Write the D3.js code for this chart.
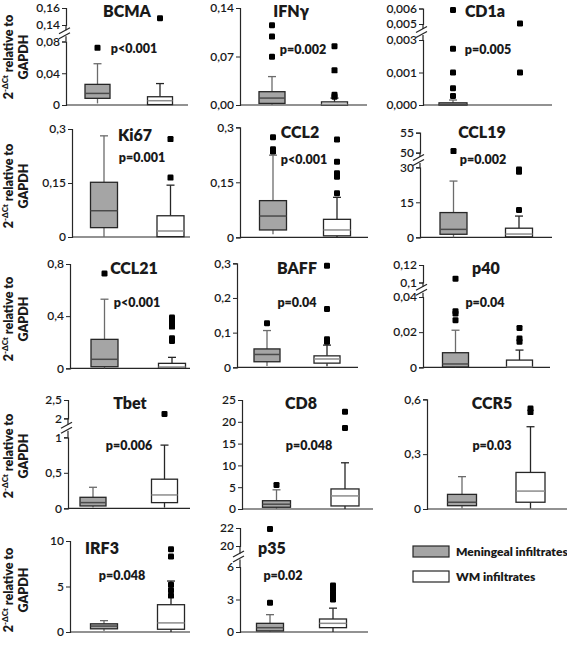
<!DOCTYPE html>
<html><head><meta charset="utf-8">
<script src="https://cdn.jsdelivr.net/npm/d3@7"></script>
<style>body{margin:0;background:#fff} svg{display:block} text{font-family:Lato,"Open Sans",sans-serif}</style>
</head><body><svg id="c" width="567" height="650"></svg>
<script>
// ---------------- DATA ----------------
const genes = ["BCMA","IFNγ","CD1a","Ki67","CCL2","CCL19","CCL21","BAFF","p40","Tbet","CD8","CCR5","IRF3","p35"];
const pValues = ["p<0.001","p=0.002","p=0.005","p=0.001","p<0.001","p=0.002","p<0.001","p=0.04","p=0.04","p=0.006","p=0.048","p=0.03","p=0.048","p=0.02"];
const groups = ["Meningeal infiltrates","WM infiltrates"];
// [whisker low, Q1, median, Q3, whisker high]
const meningealStats = [
  [0.002,0.0084,0.0146,0.026,0.052],
  [0,0.0023,0.010,0.0192,0.041],
  [0,0,0.00002,0.0001,0.00023],
  [0,0.026,0.073,0.152,0.281],
  [0.008,0.02,0.058,0.1,0.224],
  [0,1.3,3.4,10.6,24.1],
  [0,0.012,0.069,0.222,0.53],
  [0.004,0.016,0.037,0.053,0.106],
  [0,0.0002,0.0019,0.0083,0.0211],
  [0.01,0.033,0.08,0.155,0.296],
  [0,0.4,1.1,1.9,4.4],
  [0.003,0.018,0.037,0.08,0.177],
  [0.1,0.35,0.65,0.9,1.25],
  [0,0.1,0.4,0.8,1.6]
];
const wmStats = [
  [0,0.0005,0.0054,0.0104,0.027],
  [0,0,0.001,0.0045,0.010],
  [0,0,0,0,0],
  [0,0.001,0.0167,0.059,0.144],
  [0,0.004,0.02,0.049,0.109],
  [0,0.2,1.4,3.9,9.1],
  [0,0.003,0.01,0.038,0.084],
  [0.003,0.012,0.024,0.033,0.064],
  [0,0,0.0003,0.0041,0.0098],
  [0.01,0.08,0.188,0.41,0.89],
  [0,0.7,3.0,4.6,10.6],
  [0.003,0.037,0.098,0.2,0.45],
  [0,0.3,1.0,3.0,5.6],
  [0,0.4,0.8,1.2,2.2]
];
const meningealOutliers = [
  [0.072],[0.115,0.099,0.0696],[0.0059,0.0026,0.0015,0.00077,0.00042],[],
  [0.273,0.24,0.234],[50.4],[0.727],[0.127],[0.1044,0.0319,0.0306,0.0268],
  [],[5.5],[],[],[21.9,2.7]
];
const wmOutliers = [
  [0.148],[0.0847,0.050,0.0147,0.012],[0.00504,0.0015],[0.272,0.165],
  [0.267,0.206,0.175,0.165,0.12],[29.1,28.1,11.7],[0.39,0.37,0.34,0.32,0.23,0.21],
  [0.293,0.168,0.081,0.074],[0.0224,0.0164,0.0145],[2.12],[22.3,18.6],[0.55,0.53],
  [9.1,8.3,5.2,4.6,4.0],[4.3,4.0,3.6,3.3,3.0]
];
const lowTicks = [
  [0,0.04,0.08],[0,0.07,0.14],[0,0.0015,0.003],[0,0.15,0.3],[0,0.15,0.3],[0,15,30],
  [0,0.4,0.8],[0,0.1,0.2,0.3],[0,0.02,0.04],[0,0.5,1],[0,5,10,15,20,25],[0,0.3,0.6],
  [0,5,10],[0,3,6]
];
const lowTickLabels = [
  ["0","0,04","0,08"],["0,00","0,07","0,14"],["0,000","0,001","0,003"],["0","0,15","0,3"],["0","0,15","0,3"],["0","15","30"],
  ["0","0,4","0,8"],["0","0,1","0,2","0,3"],["0","0,02","0,04"],["0","0,5","1"],["0","5","10","15","20","25"],["0","0,3","0,6"],
  ["0","5","10"],["0","3","6"]
];
const upTicks = [[0.14,0.16],null,[0.005,0.006],null,null,[50,55],null,null,[0.1,0.12],[2,2.5],null,null,null,[20,22]];
const upTickLabels = [["0,14","0,16"],null,["0,005","0,006"],null,null,["50","55"],null,null,["0,1","0,12"],["2","2,5"],null,null,null,["20","22"]];
const yLabelMain = "2", yLabelSup = "-ΔCt", yLabelRest = " relative to", yLabelLine2 = "GAPDH";

// ---------------- LAYOUT ----------------
const layout = [
  {ax:66, xr:188, base:105, lowTop:41.5, upBot:25, upTop:8, c:[97.5,160], bw:25, tx:127, ty:17, px:134, py:53},
  {ax:240,xr:367, base:105, lowTop:8, c:[272,334.5], bw:26, tx:291, ty:17, px:303, py:54},
  {ax:423,xr:552, base:105, lowTop:40, upBot:24, upTop:8.5, c:[453,520], bw:28, tx:485, ty:17, px:488, py:54},
  {ax:72, xr:190, base:237, lowTop:129, c:[104,170.5], bw:27, tx:135, ty:141, px:142, py:162},
  {ax:240,xr:368, base:237.3, lowTop:127.3, c:[273,337], bw:27, tx:300, ty:138, px:304, py:164},
  {ax:420,xr:552, base:237.3, lowTop:167.3, upBot:152.7, upTop:132.7, c:[453.5,519], bw:27, tx:482, ty:138, px:483, py:164},
  {ax:70, xr:190, base:368.3, lowTop:264, c:[104.5,172], bw:27, tx:134, ty:274, px:137, py:307},
  {ax:237,xr:358, base:367.3, lowTop:263.3, c:[267,327], bw:26, tx:297, ty:274, px:297, py:307},
  {ax:423,xr:550, base:367.3, lowTop:297, upBot:282.5, upTop:265, c:[455.5,519.5], bw:26, tx:486, ty:274, px:485, py:307},
  {ax:68, xr:190, base:508.3, lowTop:437.3, upBot:418.3, upTop:400, c:[93,164.5], bw:26, tx:130, ty:409, px:129, py:450},
  {ax:242,xr:373, base:509, lowTop:400, c:[276.5,345], bw:28, tx:301, ty:409, px:309, py:450},
  {ax:427,xr:567, base:509, lowTop:399.3, c:[462,530.5], bw:29, tx:492, ty:409, px:492, py:450},
  {ax:70, xr:190, base:632, lowTop:541, c:[104,171], bw:27, tx:102, ty:554, px:122, py:580},
  {ax:240,xr:368, base:632, lowTop:567, upBot:546, upTop:528, c:[270,333], bw:27, tx:272, ty:554, px:283, py:580}
];
const yLabelRows = [57,186,319,456,590];
const colors = {fill:["#a5a5a5","#ffffff"], stroke:"#262626", whisker:["#6b6b6b","#262626"], median:["#4a4a4a","#8c8c8c"], axis:"#262626", text:"#1a1a1a"};

// ---------------- DRAW ----------------
const svg = d3.select("#c");
genes.forEach((g,i)=>{
  const L = layout[i];
  const gp = svg.append("g");
  const lowDomain = [lowTicks[i][0], lowTicks[i][lowTicks[i].length-1]];
  const yLow = d3.scaleLinear().domain(lowDomain).range([L.base, L.lowTop]);
  let yUp = null;
  if (upTicks[i]) yUp = d3.scaleLinear().domain([upTicks[i][0], upTicks[i][upTicks[i].length-1]]).range([L.upBot, L.upTop]);
  const y = v => (yUp && v > lowDomain[1]) ? yUp(v) : yLow(v);
  const x = d3.scalePoint().domain(groups).range(L.c);

  gp.append("g").attr("transform",`translate(${L.ax},0)`)
    .call(d3.axisLeft(yLow).tickValues(lowTicks[i]).tickFormat((d,k)=>lowTickLabels[i][k]).tickSizeOuter(0).tickSize(4));
  if (yUp) {
    gp.append("g").attr("transform",`translate(${L.ax},0)`)
      .call(d3.axisLeft(yUp).tickValues(upTicks[i]).tickFormat((d,k)=>upTickLabels[i][k]).tickSizeOuter(0).tickSize(4));
    const mid = (L.upBot + L.lowTop)/2;
    gp.append("line").attr("x1",L.ax).attr("x2",L.ax).attr("y1",L.upBot).attr("y2",mid-3).attr("stroke",colors.axis).attr("stroke-width",1.2);
    gp.append("line").attr("x1",L.ax).attr("x2",L.ax).attr("y1",mid+3).attr("y2",L.lowTop).attr("stroke",colors.axis).attr("stroke-width",1.2);
    [-2.5,2.5].forEach(o=>{
      gp.append("line").attr("x1",L.ax-7).attr("y1",mid+o+3).attr("x2",L.ax+4).attr("y2",mid+o-3)
        .attr("stroke",colors.axis).attr("stroke-width",1.3);
    });
  }
  gp.selectAll(".domain").attr("stroke",colors.axis).attr("stroke-width",1.2);
  gp.selectAll(".tick line").attr("stroke",colors.axis);
  gp.selectAll(".tick text").attr("fill",colors.text).style("font-size","12px").style("font-weight","600").attr("x",-6);

  gp.append("line").attr("x1",L.ax).attr("x2",L.xr).attr("y1",L.base).attr("y2",L.base).attr("stroke",colors.axis).attr("stroke-width",1.2);

  const stats = [meningealStats[i], wmStats[i]];
  const outs = [meningealOutliers[i], wmOutliers[i]];
  groups.forEach((grp,k)=>{
    const s = stats[k], cx = x(grp), hw = L.bw/2;
    if (s[4] > 0) {
      gp.append("line").attr("x1",cx).attr("x2",cx).attr("y1",y(s[3])).attr("y2",y(s[4])).attr("stroke",colors.whisker[k]).attr("stroke-width",1.3);
      gp.append("line").attr("x1",cx).attr("x2",cx).attr("y1",y(s[0])).attr("y2",y(s[1])).attr("stroke",colors.whisker[k]).attr("stroke-width",1.3);
      gp.append("line").attr("x1",cx-4).attr("x2",cx+4).attr("y1",y(s[4])).attr("y2",y(s[4])).attr("stroke",colors.whisker[k]).attr("stroke-width",1.3);
      gp.append("rect").attr("x",cx-hw).attr("width",L.bw).attr("y",y(s[3])).attr("height",Math.max(0,y(s[1])-y(s[3])))
        .attr("fill",colors.fill[k]).attr("stroke",colors.stroke).attr("stroke-width",1.3);
      gp.append("line").attr("x1",cx-hw).attr("x2",cx+hw).attr("y1",y(s[2])).attr("y2",y(s[2])).attr("stroke",colors.median[k]).attr("stroke-width",1.5);
    }
    outs[k].forEach(v=>{
      gp.append("rect").attr("x",cx-3).attr("y",y(v)-3).attr("width",6).attr("height",6).attr("rx",1.2).attr("fill","#000");
    });
  });

  gp.append("text").attr("x",L.tx).attr("y",L.ty).attr("text-anchor","middle").attr("fill",colors.text)
    .style("font-size","16px").style("font-weight","800").text(g);
  gp.append("text").attr("x",L.px).attr("y",L.py).attr("text-anchor","middle").attr("fill",colors.text)
    .style("font-size","12.5px").style("font-weight","800").text(pValues[i]);
});

yLabelRows.forEach(cy=>{
  const t = svg.append("text").attr("transform",`translate(13,${cy}) rotate(-90)`).attr("text-anchor","middle")
    .attr("fill",colors.text).style("font-size","12.5px").style("font-weight","800");
  t.append("tspan").text(yLabelMain);
  t.append("tspan").attr("dy",-5).style("font-size","8px").text(yLabelSup);
  t.append("tspan").attr("dy",5).text(yLabelRest);
  svg.append("text").attr("transform",`translate(28,${cy}) rotate(-90)`).attr("text-anchor","middle")
    .attr("fill",colors.text).style("font-size","12.5px").style("font-weight","800").text(yLabelLine2);
});

const lg = svg.append("g").attr("transform","translate(413,546)");
groups.forEach((grp,k)=>{
  lg.append("rect").attr("x",0).attr("y",k*25).attr("width",36).attr("height",11)
    .attr("fill",colors.fill[k]).attr("stroke",colors.stroke).attr("stroke-width",1.2);
  lg.append("text").attr("x",43).attr("y",k*25+10).attr("fill",colors.text)
    .style("font-size","12px").style("font-weight","800").text(grp);
});
</script></body></html>
